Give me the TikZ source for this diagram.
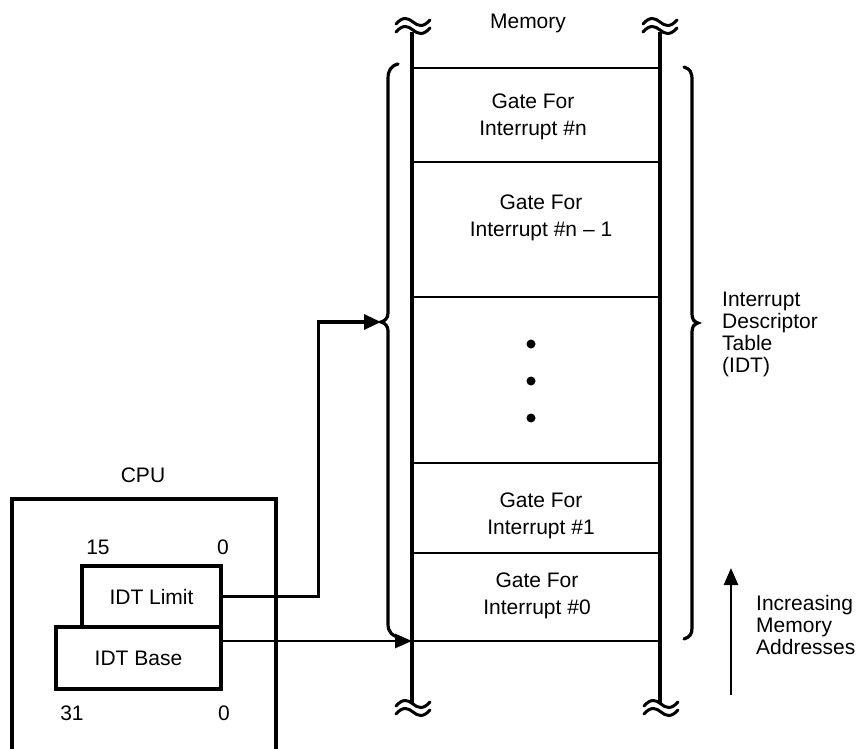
\documentclass[tikz,border=0pt]{standalone}
\usepackage{fontspec}
\setmainfont{Liberation Sans}
\usetikzlibrary{arrows.meta}
\tikzset{
  txt/.style={font=\fontsize{21}{22}\selectfont, inner sep=0pt},
  gatetxt/.style={txt, align=center, font=\fontsize{21}{27}\selectfont},
  sidetxt/.style={txt, align=left, anchor=west},
  regbox/.style={draw, line width=3.2pt, inner sep=0pt, font=\fontsize{21}{22}\selectfont},
  heavy/.style={line width=3.6pt},
  divider/.style={line width=2.8pt},
  conn/.style={line width=3.2pt, -{Triangle[length=17pt,width=15pt]}},
  thinconn/.style={line width=2.6pt, -{Triangle[length=17pt,width=14pt]}},
  bracestyle/.style={line width=3.2pt, line cap=round},
  wavy/.pic={
    \draw[line width=3pt, line cap=round] (-17,-2) .. controls (-10,-10) and (-5,-8) .. (0,-4) .. controls (5,0) and (10,2) .. (17,-6);
    \draw[line width=3pt, line cap=round] (-17,6) .. controls (-10,-2) and (-5,0) .. (0,4) .. controls (5,8) and (10,10) .. (17,2);
  }
}
\begin{document}
\begin{tikzpicture}[x=1pt,y=-1pt]
\useasboundingbox (0,0) rectangle (860,749);

% ---------- Memory column ----------
\node[txt] (memlbl) at (528,23) {Memory};
\draw[heavy] (412,32) -- (412,703);
\draw[heavy] (660,32) -- (660,703);
\pic at (413,26) {wavy};
\pic at (660,26) {wavy};
\pic at (413,708) {wavy};
\pic at (661,708) {wavy};
\foreach \yy in {68,162,297,463,553,641}
  \draw[divider] (412,\yy) -- (660,\yy);

\node[gatetxt] (gn)  at (533,117) {Gate For\\Interrupt \#n};
\node[gatetxt] (gn1) at (541,218) {Gate For\\Interrupt \#n -- 1};
\node[gatetxt] (g1)  at (541,516) {Gate For\\Interrupt \#1};
\node[gatetxt] (g0)  at (537,596) {Gate For\\Interrupt \#0};
\foreach \yy in {344,381,418}
  \fill (531,\yy) circle (4.5pt);

\coordinate (m0) at (412,641);

% ---------- Braces ----------
\coordinate (lbtip) at (381,322);
\draw[bracestyle] (398,64) .. controls (391,66) and (388,70) .. (388,79) -- (388,313)
  .. controls (388,318) and (385,321) .. (lbtip)
  .. controls (385,323) and (388,326) .. (388,331) -- (388,624)
  .. controls (388,632) and (392,636) .. (401,638);
\draw[bracestyle] (684,67) .. controls (690,69) and (692,72) .. (692,80) -- (692,314)
  .. controls (692,319) and (694,322) .. (698,323)
  .. controls (694,324) and (692,327) .. (692,332) -- (692,628)
  .. controls (692,634) and (690,637) .. (684,639);
\node[sidetxt] (idt) at (722,334) {Interrupt\\Descriptor\\Table\\(IDT)};

% ---------- Increasing addresses ----------
\coordinate (incbot) at (731,695);
\coordinate (inctop) at (731,568);
\draw[thinconn] (incbot) -- (inctop);
\node[sidetxt] (inc) at (756,625) {Increasing\\Memory\\Addresses};

% ---------- CPU ----------
\node[txt] (cpulbl) at (143,475) {CPU};
\draw[heavy] (12,749) -- (12,499) -- (276,499) -- (276,749);
\node[txt] (n15) at (98,547) {15};
\node[txt] (n0a) at (223,547) {0};
\node[txt] (n31) at (72,713) {31};
\node[txt] (n0b) at (224,713) {0};

\node[regbox, minimum width=139pt, minimum height=61pt] (limit) at (151.5,596.5) {IDT Limit};
\node[regbox, minimum width=165pt, minimum height=62pt] (base) at (138.5,658) {IDT Base};

% ---------- Connectors ----------
\draw[conn] (limit.east) -- ++(96,0) |- (lbtip);
\draw[thinconn] (base.north east |- m0) -- (m0);
\end{tikzpicture}
\end{document}
